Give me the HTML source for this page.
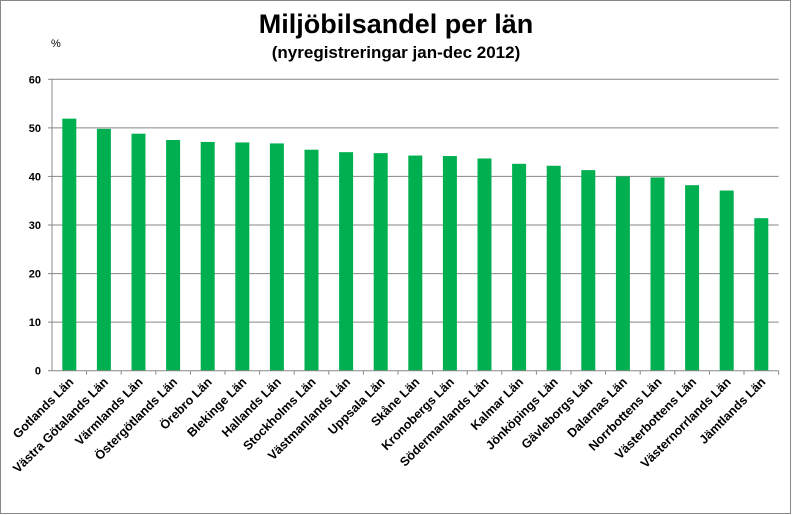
<!DOCTYPE html>
<html><head><meta charset="utf-8">
<style>
html,body{margin:0;padding:0;background:#fff;}
svg{display:block;font-family:"Liberation Sans",Arial,sans-serif;}
</style></head>
<body>
<svg id="chart" width="792" height="515" viewBox="0 0 792 515">
<rect x="0.5" y="0.5" width="790" height="513" fill="#fff" stroke="#888"/>
<text x="396" y="33" text-anchor="middle" font-size="27" font-weight="bold">Miljöbilsandel per län</text>
<text x="396" y="58" text-anchor="middle" font-size="17" font-weight="bold">(nyregistreringar jan-dec 2012)</text>
<text x="51" y="47" font-size="11">%</text>
<g id="grid"></g><g id="bars"></g><g id="axes"></g><g id="labels"></g>
</svg>
<script>
const categories=["Gotlands Län","Västra Götalands Län","Värmlands Län","Östergötlands Län","Örebro Län","Blekinge Län","Hallands Län","Stockholms Län","Västmanlands Län","Uppsala Län","Skåne Län","Kronobergs Län","Södermanlands Län","Kalmar Län","Jönköpings Län","Gävleborgs Län","Dalarnas Län","Norrbottens Län","Västerbottens Län","Västernorrlands Län","Jämtlands Län"];
const values=[51.9,49.8,48.8,47.5,47.1,47.0,46.8,45.5,45.0,44.8,44.3,44.2,43.7,42.6,42.2,41.3,40.0,39.8,38.2,37.1,31.4];
const yTicks=[0,10,20,30,40,50,60];
const NS="http://www.w3.org/2000/svg";
const x0=52,x1=778.6,yTop=79.3,yBot=370.7,yMax=60;
const step=(x1-x0)/categories.length;
const y=v=>yBot-(v/yMax)*(yBot-yTop);
const xc=i=>x0+step*(i+0.5);
function mk(tag,attrs,parent){const e=document.createElementNS(NS,tag);for(const k in attrs)e.setAttribute(k,attrs[k]);document.getElementById(parent).appendChild(e);return e;}
yTicks.forEach(t=>{
  if(t>0){const g=mk('line',{x1:x0,x2:x1,y1:y(t),y2:y(t),stroke:'#868686','stroke-width':1},'grid');
  
  }
  const tk=mk('line',{x1:x0-4,x2:x0,y1:y(t),y2:y(t),stroke:'#888'},'axes');
  
  
  const l=mk('text',{x:x0-11,y:y(t)+4,'text-anchor':'end','font-size':11,'font-weight':'bold'},'labels');
  l.textContent=t;
  
  
});
const ya=mk('line',{x1:x0,x2:x0,y1:yTop,y2:yBot,stroke:'#888'},'axes');


const xa=mk('line',{x1:x0,x2:x1,y1:yBot,y2:yBot,stroke:'#888'},'axes');


categories.forEach((c,i)=>{
  const b=mk('rect',{x:xc(i)-7,y:y(values[i]),width:14,height:yBot-y(values[i]),fill:'#00b050'},'bars');
  
  
  const tk=mk('line',{x1:x0+step*(i+1),x2:x0+step*(i+1),y1:yBot,y2:yBot+4,stroke:'#888'},'axes');
  
  
  const cx=xc(i)+5,cy=yBot+12;
  const l=mk('text',{x:cx,y:cy,'text-anchor':'end','font-size':12.5,'font-weight':'bold',transform:`rotate(-45 ${cx} ${cy})`},'labels');
  l.textContent=c;
  
  
});
</script>
</body></html>
